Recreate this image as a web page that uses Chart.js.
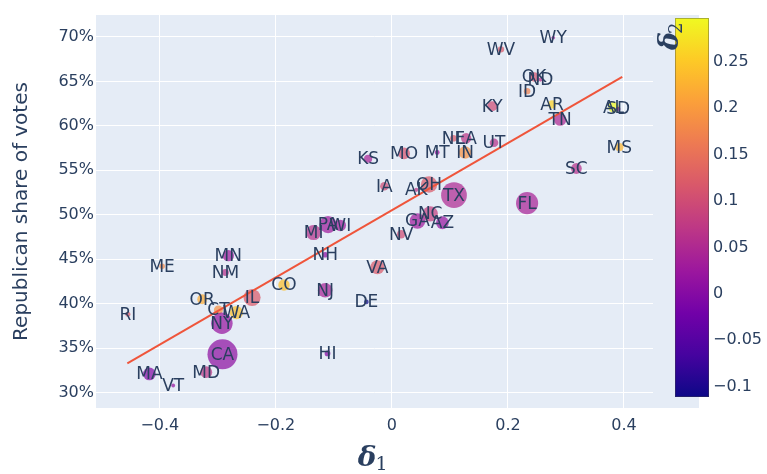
<!DOCTYPE html>
<html>
<head>
<meta charset="utf-8">
<script src="https://cdn.jsdelivr.net/npm/chart.js@4.4.1/dist/chart.umd.min.js"></script>
<style>
  html, body { margin: 0; padding: 0; background: #fff; }
  #wrap { width: 767px; height: 474px; }
</style>
</head>
<body>
<div id="wrap"><canvas id="myChart" width="767" height="474"></canvas></div>
<script>
// data
const states = ['WV','WY','OK','ND','ID','KY','AR','TN','AL','SD','MS','SC','NE','LA','UT','IN','MT','MO','KS','IA',
  'AK','OH','TX','FL','NC','GA','AZ','NV','PA','WI','MI','NH','MN','NM','ME','VA','CO','NJ','IL','OR',
  'DE','RI','CT','WA','NY','CA','HI','MA','MD','VT'];
const delta1 = [0.188,0.278,0.245,0.256,0.233,0.173,0.276,0.290,0.382,0.390,0.392,0.318,0.106,0.128,0.176,0.126,0.078,0.021,-0.041,-0.013,
  0.042,0.064,0.107,0.233,0.066,0.044,0.087,0.016,-0.110,-0.089,-0.135,-0.115,-0.282,-0.287,-0.396,-0.025,-0.186,-0.115,-0.241,-0.327,
  -0.044,-0.455,-0.299,-0.268,-0.293,-0.292,-0.111,-0.418,-0.320,-0.377];
const repShare = [68.6,69.9,65.5,65.2,63.9,62.2,62.4,60.7,62.1,61.9,57.6,55.2,58.6,58.6,58.1,57.0,57.0,56.9,56.3,53.2,
  52.8,53.4,52.2,51.3,50.1,49.3,49.1,47.8,48.9,48.8,48.0,45.5,45.4,43.5,44.2,44.1,42.1,41.5,40.7,40.5,
  40.2,38.8,39.3,39.0,37.8,34.3,34.4,32.1,32.3,30.8];
const delta2 = [0.12,0.03,0.11,0.06,0.17,0.10,0.26,0.05,0.297,0.03,0.23,0.06,0.12,0.07,0.06,0.19,0.02,0.11,0.04,0.10,
  0.07,0.12,0.05,0.04,0.08,0.03,0.02,0.10,0.03,0.03,0.06,0.01,0.03,0.06,0.18,0.12,0.24,0.04,0.12,0.22,
  -0.111,0.12,0.19,0.24,0.02,0.01,0.0,0.0,0.07,0.02];
// population in millions (marker size)
const population = [1.79,0.58,3.96,0.78,1.84,4.5,3.0,6.9,5.0,0.89,2.96,5.1,1.96,4.65,3.27,6.79,1.08,6.15,2.94,3.19,
  0.73,11.8,29.1,21.5,10.4,10.7,7.15,3.1,13.0,5.89,10.1,1.38,5.71,2.12,1.36,8.63,5.77,9.29,12.8,4.24,
  0.99,1.1,3.6,7.71,20.2,39.5,1.46,7.03,6.18,0.64];
// fitted line end points
const fitX = [-0.456, 0.397];
const fitY = [33.3, 65.5];
// ticks
const xTicks = [-0.4, -0.2, 0, 0.2, 0.4];
const yTicks = [30, 35, 40, 45, 50, 55, 60, 65, 70];
const cbTicks = [-0.1, -0.05, 0, 0.05, 0.1, 0.15, 0.2, 0.25];

const TXT = '#2a3f5f';
const FONT = '"DejaVu Sans", Verdana, sans-serif';
const plasma = ['#0d0887','#46039f','#7201a8','#9c179e','#bd3786','#d8576b','#ed7953','#fb9f3a','#fdca26','#f0f921'];
const cMin = Math.min(...delta2);
const cMax = Math.max(...delta2);

function hexRgb(h){
  return [parseInt(h.slice(1,3),16), parseInt(h.slice(3,5),16), parseInt(h.slice(5,7),16)];
}
function plasmaColor(v, alpha){
  let t = (v - cMin) / (cMax - cMin);
  t = Math.max(0, Math.min(1, t)) * (plasma.length - 1);
  let i = Math.min(Math.floor(t), plasma.length - 2);
  let f = t - i;
  let a = hexRgb(plasma[i]), b = hexRgb(plasma[i+1]);
  let c = a.map((x, k) => Math.round(x + (b[k] - x) * f));
  return 'rgba(' + c.join(',') + ',' + alpha + ')';
}
function fmt(v){
  let s = String(Math.round(v * 1000) / 1000);
  return s.replace('-', '\u2212');
}

const points = states.map((s, i) => ({
  x: delta1[i], y: repShare[i], r: 15 * Math.sqrt(population[i] / 39.5)
}));

// background, labels, titles and colour bar
const decor = {
  id: 'decor',
  beforeDraw(chart){
    const c = chart.ctx, a = chart.chartArea;
    c.save();
    c.fillStyle = '#E5ECF6';
    c.fillRect(a.left, a.top, 699 - a.left, a.bottom - a.top);
    c.restore();
  },
  afterDatasetsDraw(chart){
    const c = chart.ctx, xs = chart.scales.x, ys = chart.scales.y;
    c.save();
    c.fillStyle = TXT;
    c.font = '17px ' + FONT;
    c.textAlign = 'center';
    c.textBaseline = 'middle';
    states.forEach((s, i) => {
      c.fillText(s, xs.getPixelForValue(delta1[i]), ys.getPixelForValue(repShare[i]) + 1);
    });
    c.restore();
  },
  afterDraw(chart){
    const c = chart.ctx, a = chart.chartArea;
    c.save();
    c.fillStyle = TXT;
    // y title
    c.translate(22, (a.top + a.bottom) / 2);
    c.rotate(-Math.PI / 2);
    c.font = '20px ' + FONT;
    c.textAlign = 'center';
    c.textBaseline = 'middle';
    c.fillText('Republican share of votes', 0, 0);
    c.restore();

    // x title delta_1
    c.save();
    c.fillStyle = TXT;
    c.textBaseline = 'alphabetic';
    c.font = 'italic bold 28px "DejaVu Serif", serif';
    let cx = (a.left + a.right) / 2;
    let w = c.measureText('\u03b4').width;
    c.fillText('\u03b4', cx - w + 2, 466);
    c.font = '19px "DejaVu Serif", serif';
    c.fillText('1', cx + 1, 470);
    c.restore();

    // colour bar
    const top = 18, bot = 397, left = 675, right = 709;
    let g = c.createLinearGradient(0, bot, 0, top);
    plasma.forEach((col, i) => g.addColorStop(i / (plasma.length - 1), col));
    c.save();
    c.fillStyle = g;
    c.fillRect(left, top, right - left, bot - top);
    c.strokeStyle = 'rgba(68,68,68,0.4)';
    c.lineWidth = 1;
    c.strokeRect(left + 0.5, top + 0.5, right - left - 1, bot - top - 1);
    c.fillStyle = TXT;
    c.font = '16px ' + FONT;
    c.textAlign = 'left';
    c.textBaseline = 'middle';
    cbTicks.forEach(v => {
      let py = bot - (v - cMin) / (cMax - cMin) * (bot - top);
      c.fillText(fmt(v), 713, py);
    });
    // colour bar title delta_2
    c.translate(670, 36);
    c.rotate(-Math.PI / 2);
    c.textAlign = 'left';
    c.textBaseline = 'alphabetic';
    c.font = 'italic bold 27px "DejaVu Serif", serif';
    c.fillText('\u03b4', -14, 8);
    c.font = '18px "DejaVu Serif", serif';
    c.fillText('2', 2, 12);
    c.restore();
  }
};

let ctx = document.getElementById('myChart');
let myChart = new Chart(ctx, {
  type: 'bubble',
  data: {
    datasets: [{
      data: points,
      backgroundColor: delta2.map(v => plasmaColor(v, 0.72)),
      borderWidth: 0,
      order: 2
    }, {
      type: 'line',
      data: fitX.map((x, i) => ({x: x, y: fitY[i]})),
      borderColor: '#EF553B',
      borderWidth: 2,
      pointRadius: 0,
      fill: false,
      order: 1
    }]
  },
  options: {
    responsive: false,
    devicePixelRatio: 1,
    animation: false,
    layout: { padding: {left: 0, top: 7, right: 114, bottom: 0} },
    plugins: { legend: {display: false}, tooltip: {enabled: false} },
    scales: {
      x: {
        type: 'linear', min: -0.51, max: 0.45,
        afterFit: (s) => { s.height = 66; },
        afterBuildTicks: (s) => { s.ticks = xTicks.map(v => ({value: v})); },
        grid: { color: '#fff', lineWidth: 1, drawTicks: false },
        border: { display: false },
        ticks: { color: TXT, font: {family: FONT, size: 16}, padding: 8, callback: (v) => fmt(v) }
      },
      y: {
        type: 'linear', min: 28.27, max: 72.46,
        afterFit: (s) => { s.width = 96; },
        afterBuildTicks: (s) => { s.ticks = yTicks.map(v => ({value: v})); },
        grid: { color: '#fff', lineWidth: 1, drawTicks: false },
        border: { display: false },
        ticks: { color: TXT, font: {family: FONT, size: 16}, padding: 2, callback: (v) => v + '%' }
      }
    }
  },
  plugins: [decor]
});
</script>
</body>
</html>
